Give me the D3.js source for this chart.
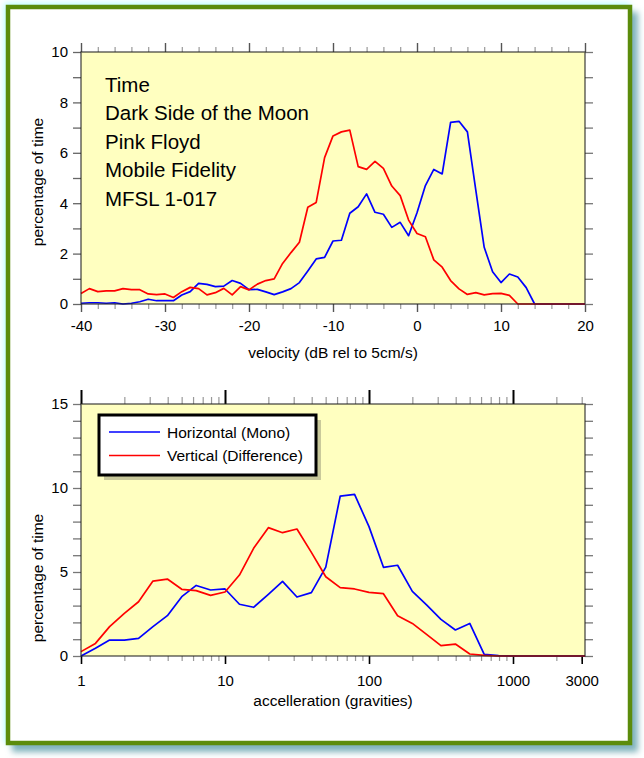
<!DOCTYPE html>
<html><head><meta charset="utf-8">
<script src="https://cdn.jsdelivr.net/npm/d3@7"></script>
<style>body{margin:0;background:#fff}text{font-family:"Liberation Sans",Arial,Helvetica,sans-serif}</style>
</head><body><svg id="c" width="644" height="758"></svg>
<script>
// ---------- DATA ----------
const velocity = [-40,-39,-38,-37,-36,-35,-34,-33,-32,-31,-30,-29,-28,-27,-26,-25,-24,-23,-22,-21,-20,-19,-18,-17,-16,-15,-14,-13,-12,-11,-10,-9,-8,-7,-6,-5,-4,-3,-2,-1,0,1,2,3,4,5,6,7,8,9,10,11,12,13,14,15,16,17,18,19,20];
const velHorizontal = [0.03,0.05,0.05,0.03,0.05,0.0,0.03,0.09,0.19,0.13,0.13,0.13,0.36,0.49,0.82,0.78,0.69,0.71,0.93,0.82,0.57,0.58,0.48,0.37,0.48,0.61,0.85,1.31,1.79,1.85,2.5,
  2.53,3.6,3.86,4.37,3.64,3.56,3.04,3.24,2.71,3.62,
  4.70,5.34,5.16,7.21,7.25,6.83,4.52,2.25,1.28,0.85,
  1.19,1.07,0.65,0,0,0,0,0,0,0];
const velVertical = [0.42,0.61,0.49,0.52,0.52,0.61,0.57,0.57,0.40,0.37,0.40,0.26,0.49,0.66,0.61,0.36,0.45,0.62,0.36,0.69,0.56,0.79,0.93,1.0,1.61,2.04,2.45,3.84,4.03,5.81,6.67,
  6.83,6.9,5.45,5.34,5.66,5.38,4.68,4.30,3.33,2.80,
  2.67,1.75,1.46,0.93,0.60,0.38,0.45,0.36,0.41,0.42,
  0.34,0,0,0,0,0,0,0,0,0];
const accel = [1,1.26,1.58,2,2.51,3.16,3.98,5.01,6.31,7.94,10,12.6,15.8,20,25.1,31.6,39.8,50.1,63.1,79.4,100,126,158,200,251,316,398,501,631,794,1000,3162];
const accHorizontal = [0,0.46,0.95,0.95,1.05,1.75,2.4,3.53,4.2,3.93,
  3.99,3.08,2.90,3.67,4.44,3.51,3.77,5.29,9.52,9.62,
  7.70,5.28,5.40,3.85,3.04,2.18,1.55,1.94,0.1,0.02,0,0];
const accVertical = [0.26,0.75,1.75,2.54,3.23,4.46,4.58,3.97,3.89,3.61,
  3.81,4.82,6.41,7.64,7.34,7.56,6.17,4.72,4.07,3.99,
  3.79,3.71,2.40,1.94,1.29,0.62,0.71,0.12,0.04,0,0,0];
const velMajorTicks = [-40,-30,-20,-10,0,10,20];
const pctTop = [0,1,2,3,4,5,6,7,8,9,10];
const pctTopLabels = [0,2,4,6,8,10];
const accLabelTicks = [1,10,100,1000,3000];
const pctBottom = [0,1,2,3,4,5,6,7,8,9,10,11,12,13,14,15];
const pctBottomLabels = [0,5,10,15];
const infoLines = ["Time","Dark Side of the Moon","Pink Floyd","Mobile Fidelity","MFSL 1-017"];
const seriesNames = ["Horizontal (Mono)","Vertical (Difference)"];
const seriesColors = ["#0000ff","#ff0000"];

// ---------- FRAME ----------
const svg = d3.select("#c");
const defs = svg.append("defs");
defs.append("filter").attr("id","blur").attr("x","-10%").attr("y","-10%").attr("width","120%").attr("height","120%")
  .append("feGaussianBlur").attr("stdDeviation",3);
svg.append("rect").attr("x",4).attr("y",3).attr("width",626).attr("height",740).attr("fill","#b8ffff").attr("filter","url(#blur)");
svg.append("rect").attr("x",12).attr("y",12).attr("width",626).attr("height",740).attr("fill","#7fb2bb").attr("filter","url(#blur)");
svg.append("rect").attr("x",8).attr("y",7).attr("width",622).attr("height",736).attr("fill","#fff").attr("stroke","#5b8c0b").attr("stroke-width",4.5);

const fs = 15;
const fmt = d => String(d);
function styleTicks(g, color, width){ g.select(".domain").remove(); g.selectAll(".tick line").attr("stroke",color).attr("stroke-width",width); g.selectAll("text").attr("font-size",fs).attr("fill","#000").attr("font-family","Liberation Sans, Arial, sans-serif"); }

function drawLines(g, xs, x, y, data){
  data.forEach((vals,i)=>{
    const line = d3.line().x((d,j)=>x(xs[j])).y(d=>y(d));
    g.append("path").datum(vals).attr("d",line).attr("fill","none").attr("stroke",seriesColors[i]).attr("stroke-width",1.7).attr("stroke-linejoin","round");
  });
}

// ---------- TOP CHART ----------
{
  const L=81,R=585,T=52,B=304;
  const x = d3.scaleLinear().domain([-40,20]).range([L,R]);
  const y = d3.scaleLinear().domain([0,10]).range([B,T]);
  const g = svg.append("g");
  g.append("rect").attr("x",L).attr("y",T).attr("width",R-L).attr("height",B-T).attr("fill","#ffffc0");
  const minor = d3.range(-40,21,2).filter(v=>v%10!==0);
  g.append("g").attr("transform",`translate(0,${B})`).call(d3.axisBottom(x).tickValues(minor).tickSize(5).tickFormat("")).call(s=>styleTicks(s,"#999",1.2));
  g.append("g").attr("transform",`translate(0,${B})`).call(d3.axisBottom(x).tickValues(velMajorTicks).tickSize(8).tickPadding(8).tickFormat(fmt)).call(s=>styleTicks(s,"#555",1.4));
  g.append("g").attr("transform",`translate(0,${T})`).call(d3.axisTop(x).tickValues(minor).tickSize(5).tickFormat("")).call(s=>styleTicks(s,"#999",1.2));
  g.append("g").attr("transform",`translate(0,${T})`).call(d3.axisTop(x).tickValues(velMajorTicks).tickSize(9).tickFormat("")).call(s=>styleTicks(s,"#555",1.4));
  g.append("g").attr("transform",`translate(${L},0)`).call(d3.axisLeft(y).tickValues(pctTop).tickSize(8).tickPadding(5).tickFormat(d=>pctTopLabels.includes(d)?fmt(d):"")).call(s=>styleTicks(s,"#666",1.3));
  g.append("g").attr("transform",`translate(${R},0)`).call(d3.axisRight(y).tickValues(pctTop).tickSize(8).tickFormat("")).call(s=>styleTicks(s,"#777",1.3));
  infoLines.forEach((t,i)=>g.append("text").attr("x",105).attr("y",92+i*28.4).attr("font-size",20.5).text(t));
  drawLines(g, velocity, x, y, [velHorizontal, velVertical]);
  g.append("rect").attr("x",L).attr("y",T).attr("width",R-L).attr("height",B-T).attr("fill","none").attr("stroke","#222").attr("stroke-width",1.4).attr("stroke-opacity",0.75);
  g.append("text").attr("x",(L+R)/2).attr("y",358).attr("text-anchor","middle").attr("font-size",15.5).text("velocity (dB rel to 5cm/s)");
  g.append("text").attr("transform",`translate(43,${(T+B)/2+4}) rotate(-90)`).attr("text-anchor","middle").attr("font-size",15.5).text("percentage of time");
}

// ---------- BOTTOM CHART ----------
{
  const L=81,R=585,T=404,B=656;
  const x = d3.scaleLog().domain([1,3162.28]).range([L,R]);
  const y = d3.scaleLinear().domain([0,15]).range([B,T]);
  const g = svg.append("g");
  g.append("rect").attr("x",L).attr("y",T).attr("width",R-L).attr("height",B-T).attr("fill","#ffffc0");
  const decades = [1,10,100,1000];
  const minor = [];
  decades.forEach(d=>{[2,3,4,5,6,7,8,9].forEach(m=>{ if(d*m<=3000) minor.push(d*m); });});
  g.append("g").attr("transform",`translate(0,${T})`).call(d3.axisTop(x).tickValues(minor).tickSize(7).tickFormat("")).call(s=>styleTicks(s,"#999",1.2));
  g.append("g").attr("transform",`translate(0,${T})`).call(d3.axisTop(x).tickValues(decades).tickSize(14).tickFormat("")).call(s=>styleTicks(s,"#000",2));
  g.append("g").attr("transform",`translate(0,${B})`).call(d3.axisBottom(x).tickValues(minor).tickSize(5).tickFormat("")).call(s=>styleTicks(s,"#999",1.2));
  g.append("g").attr("transform",`translate(0,${B})`).call(d3.axisBottom(x).tickValues(accLabelTicks).tickSize(8).tickPadding(11).tickFormat(fmt)).call(s=>styleTicks(s,"#000",1.6));
  g.append("g").attr("transform",`translate(${L},0)`).call(d3.axisLeft(y).tickValues(pctBottom).tickSize(8).tickPadding(5).tickFormat(d=>pctBottomLabels.includes(d)?fmt(d):"")).call(s=>styleTicks(s,"#777",1.3));
  g.append("g").attr("transform",`translate(${R},0)`).call(d3.axisRight(y).tickValues(pctBottom).tickSize(8).tickFormat("")).call(s=>styleTicks(s,"#777",1.3));
  drawLines(g, accel, x, y, [accHorizontal, accVertical]);
  g.append("rect").attr("x",L).attr("y",T).attr("width",R-L).attr("height",B-T).attr("fill","none").attr("stroke","#222").attr("stroke-width",1.4).attr("stroke-opacity",0.75);
  // legend
  const lg = g.append("g");
  lg.append("rect").attr("x",104).attr("y",420).attr("width",217).attr("height",60).attr("fill","#c9c99b");
  lg.append("rect").attr("x",99).attr("y",415).attr("width",217).attr("height",60).attr("fill","#fff").attr("stroke","#000").attr("stroke-width",3);
  seriesNames.forEach((n,i)=>{
    lg.append("line").attr("x1",109).attr("x2",160).attr("y1",432+i*23.5).attr("y2",432+i*23.5).attr("stroke",seriesColors[i]).attr("stroke-width",1.7);
    lg.append("text").attr("x",167).attr("y",437.5+i*23.5).attr("font-size",15.5).text(n);
  });
  g.append("text").attr("x",(L+R)/2).attr("y",706).attr("text-anchor","middle").attr("font-size",15.5).text("accelleration (gravities)");
  g.append("text").attr("transform",`translate(43,${(T+B)/2+48}) rotate(-90)`).attr("text-anchor","middle").attr("font-size",15.5).text("percentage of time");
}
</script></body></html>
